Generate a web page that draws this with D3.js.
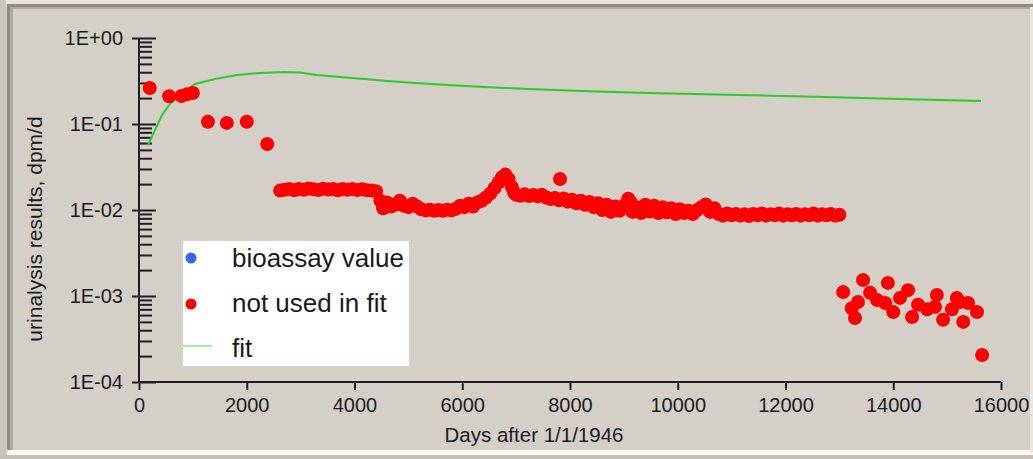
<!DOCTYPE html>
<html><head><meta charset="utf-8">
<script src="https://cdn.jsdelivr.net/npm/d3@7/dist/d3.min.js"></script>
<style>
html,body{margin:0;padding:0;background:#d4d0c8;overflow:hidden}
svg{display:block}
text{font-family:"Liberation Sans",Arial,sans-serif;fill:#1a1a1a}
</style></head>
<body>
<svg id="chart" width="1033" height="459"></svg>
<script>
// ---- data ----
const xTickValues = [0, 2000, 4000, 6000, 8000, 10000, 12000, 14000, 16000];
const yTickValues = [1e-4, 1e-3, 1e-2, 1e-1, 1];
const yTickLabels = ["1E-04", "1E-03", "1E-02", "1E-01", "1E+00"];
const xTitle = "Days after 1/1/1946";
const yTitle = "urinalysis results, dpm/d";
const legendLabels = ["bioassay value", "not used in fit", "fit"];

const fitDays =   [167, 297, 427, 575, 761, 1039, 1411, 1819, 2246, 2700, 2988, 3300, 3731, 4176, 4622, 5123, 5735, 6404, 7220, 8223, 9448, 11155, 12750, 13921, 15629];
const fitValues = [0.057, 0.085, 0.127, 0.171, 0.217, 0.292, 0.334, 0.371, 0.392, 0.403, 0.398, 0.372, 0.352, 0.334, 0.316, 0.300, 0.284, 0.270, 0.255, 0.242, 0.229, 0.217, 0.206, 0.196, 0.185];

const redDays = [
  200, 560, 790, 890, 1000, 1280, 1630, 2000, 2380,
  2620, 2700, 2790, 2880, 2970, 3060, 3150, 3240, 3330, 3420, 3510, 3600, 3690, 3780, 3870, 3960, 4050, 4140, 4230, 4320, 4400,
  4480, 4530, 4600, 4680, 4760, 4840, 4920, 5000, 5080, 5160, 5240, 5320, 5400, 5480, 5560, 5640, 5720, 5800, 5880, 5960, 6040, 6120, 6200, 6280, 6360, 6440, 6520, 6600, 6680, 6740, 6800, 6860, 6920, 6960,
  7000, 7080, 7160, 7240, 7320, 7400, 7480, 7560, 7640, 7720, 7815, 7800, 7880, 7960, 8040, 8120, 8200, 8280, 8360, 8440, 8520, 8600, 8680, 8760, 8840, 8920, 9000, 9080, 9120, 9160, 9240, 9320, 9400, 9480, 9560, 9640, 9720, 9800, 9880, 9960, 10040, 10120, 10200, 10280, 10360, 10440, 10520, 10600, 10680,
  10760, 10840, 10920, 11000, 11080, 11160, 11240, 11320, 11400, 11480, 11560, 11640, 11720, 11800, 11880, 11960, 12040, 12120, 12200, 12280, 12360, 12440, 12520, 12600, 12680, 12760, 12840, 12920, 13000,
  13070, 13440, 13900, 14275, 14810, 15180, 13230, 13290, 13345, 13570, 13700, 13850, 14000, 14125, 14350, 14460, 14630, 14775, 14925, 15090, 15240, 15300, 15390, 15555, 15650
];
const redValues = [
  0.262, 0.210, 0.212, 0.222, 0.229, 0.106, 0.103, 0.106, 0.0585,
  0.0168, 0.0172, 0.0175, 0.0170, 0.0176, 0.0172, 0.0178, 0.0174, 0.0171, 0.0177, 0.0173, 0.0175, 0.0170, 0.0176, 0.0172, 0.0175, 0.0171, 0.0174, 0.0170, 0.0168, 0.0165,
  0.0128, 0.0105, 0.0122, 0.0110, 0.0115, 0.0128, 0.0112, 0.0108, 0.0118, 0.0110, 0.0102, 0.0099, 0.0101, 0.0098, 0.0100, 0.0098, 0.0101, 0.0099, 0.0103, 0.0112, 0.0108, 0.0118, 0.0110, 0.0122, 0.0128, 0.0140, 0.0155, 0.0180, 0.0210, 0.0240, 0.0258, 0.0230, 0.0185, 0.0160,
  0.0150, 0.0146, 0.0152, 0.0145, 0.0149, 0.0144, 0.0150, 0.0140, 0.0134, 0.0138, 0.0229, 0.0130, 0.0136, 0.0125, 0.0132, 0.0120, 0.0128, 0.0115, 0.0124, 0.0108, 0.0120, 0.0100, 0.0115, 0.0095, 0.0110, 0.0098, 0.0112, 0.0135, 0.0125, 0.0095, 0.0108, 0.0092, 0.0115, 0.0096, 0.0112, 0.0092, 0.0108, 0.0094, 0.0105, 0.0090, 0.0102, 0.0092, 0.0098, 0.0090, 0.0100, 0.0108, 0.0116, 0.0095, 0.0105,
  0.0090, 0.0086, 0.0091, 0.0087, 0.0090, 0.0086, 0.0089, 0.0085, 0.0090, 0.0087, 0.0091, 0.0086, 0.0089, 0.0087, 0.0091, 0.0086, 0.0089, 0.0087, 0.0090, 0.0086, 0.0089, 0.0087, 0.0091, 0.0086, 0.0089, 0.0087, 0.0090, 0.0086, 0.0088,
  0.00111, 0.00153, 0.00142, 0.00117, 0.00103, 0.00095, 0.00072, 0.000555, 0.00085, 0.00109, 0.00090, 0.00083, 0.00065, 0.00095, 0.00057, 0.00079, 0.00070, 0.00075, 0.00053, 0.00070, 0.00085, 0.00050, 0.00083, 0.00065, 0.000206
];

// ---- drawing ----
const svg = d3.select("#chart");

// window frame
svg.append("rect").attr("x",0).attr("y",0).attr("width",1033).attr("height",459).attr("fill","#d4d0c8");
svg.append("rect").attr("x",0).attr("y",0).attr("width",1033).attr("height",4).attr("fill","#e6e4dc");
svg.append("rect").attr("x",0).attr("y",0).attr("width",6).attr("height",459).attr("fill","#cac6bc");
svg.append("rect").attr("x",7).attr("y",4).attr("width",1026).attr("height",3).attr("fill","#8e8c80");
svg.append("rect").attr("x",7).attr("y",4).attr("width",3).attr("height",450).attr("fill","#8e8c80");
svg.append("rect").attr("x",10).attr("y",7).attr("width",1023).attr("height",2).attr("fill","#aeaca0");
svg.append("rect").attr("x",10).attr("y",7).attr("width",3).attr("height",444).attr("fill","#aeaca0");
svg.append("rect").attr("x",7).attr("y",450).attr("width",1026).attr("height",5).attr("fill","#fbfaf3");
svg.append("rect").attr("x",0).attr("y",455).attr("width",1033).attr("height",4).attr("fill","#c4c0b4");
svg.append("rect").attr("x",1030).attr("y",7).attr("width",3).attr("height",445).attr("fill","#e8e6de");

const x = d3.scaleLinear().domain([0, 16000]).range([139, 1001]);
const y = d3.scaleLog().domain([1e-4, 1]).range([382, 38]);

const axisColor = "#1e1e1e";

// X axis
const xAxis = svg.append("g").attr("transform", "translate(0,382)")
  .call(d3.axisBottom(x).tickValues(xTickValues).tickFormat(d3.format("d")).tickSize(8).tickPadding(8));
xAxis.select(".domain").attr("stroke", axisColor).attr("stroke-width", 2).attr("d", "M139,0H1001");
xAxis.selectAll(".tick line").attr("stroke", axisColor).attr("stroke-width", 2);
xAxis.selectAll(".tick text").attr("font-size", 20).attr("font-family", "Liberation Sans, Arial, sans-serif").attr("fill", "#1a1a1a");

// Y axis major ticks (left part with labels)
const yAxis = svg.append("g").attr("transform", "translate(139,0)")
  .call(d3.axisLeft(y).tickValues(yTickValues).tickFormat((d, i) => yTickLabels[i]).tickSize(7).tickPadding(9));
yAxis.select(".domain").attr("stroke", axisColor).attr("stroke-width", 2).attr("d", "M0,38V383");
yAxis.selectAll(".tick line").attr("stroke", axisColor).attr("stroke-width", 2);
yAxis.selectAll(".tick text").attr("font-size", 20).attr("font-family", "Liberation Sans, Arial, sans-serif").attr("fill", "#1a1a1a");

// Y axis right-side ticks (major longer, minor shorter)
const minorVals = [];
for (let e = -4; e < 0; e++) for (let m = 2; m <= 9; m++) minorVals.push(m * Math.pow(10, e));
const yRight = svg.append("g").attr("transform", "translate(139,0)")
  .call(d3.axisRight(y).tickValues(minorVals).tickFormat("").tickSize(13));
yRight.select(".domain").remove();
yRight.selectAll(".tick line").attr("stroke", axisColor).attr("stroke-width", 2);
const yRightMajor = svg.append("g").attr("transform", "translate(139,0)")
  .call(d3.axisRight(y).tickValues(yTickValues).tickFormat("").tickSize(17));
yRightMajor.select(".domain").remove();
yRightMajor.selectAll(".tick line").attr("stroke", axisColor).attr("stroke-width", 2);

// axis titles
svg.append("text").attr("x", 534).attr("y", 442).attr("text-anchor", "middle")
  .attr("font-size", 20.5).text(xTitle);
svg.append("text").attr("transform", "translate(42,229) rotate(-90)").attr("text-anchor", "middle")
  .attr("font-size", 21).text(yTitle);

// fit line
const fitData = fitDays.map((d, i) => [d, fitValues[i]]);
svg.append("path").datum(fitData)
  .attr("fill", "none").attr("stroke", "#2ccc2c").attr("stroke-width", 2)
  .attr("d", d3.line().x(d => x(d[0])).y(d => y(d[1])));

// red points
const redData = redDays.map((d, i) => [d, redValues[i]]);
svg.append("g").selectAll("circle").data(redData).join("circle")
  .attr("cx", d => x(d[0])).attr("cy", d => y(d[1])).attr("r", 7).attr("fill", "#ff0000");

// legend
const lg = svg.append("g");
lg.append("rect").attr("x", 183).attr("y", 241).attr("width", 226).attr("height", 125).attr("fill", "#ffffff");
lg.append("circle").attr("cx", 191).attr("cy", 258).attr("r", 5.5).attr("fill", "#3366ff");
lg.append("circle").attr("cx", 191).attr("cy", 304).attr("r", 5.5).attr("fill", "#ff0000");
lg.append("line").attr("x1", 183).attr("x2", 212).attr("y1", 346).attr("y2", 346).attr("stroke", "#55ee55").attr("stroke-width", 1.2);
const legendY = [258, 303, 348];
legendLabels.forEach((t, i) => {
  lg.append("text").attr("x", 232).attr("y", legendY[i]).attr("dy", "0.35em").attr("font-size", 26).attr("fill", "#000").text(t);
});
</script>
</body></html>
